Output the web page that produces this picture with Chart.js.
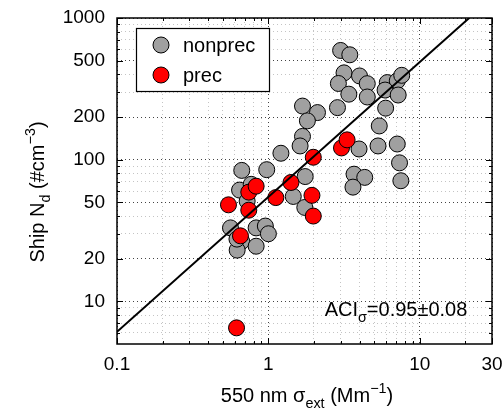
<!DOCTYPE html>
<html>
<head>
<meta charset="utf-8">
<script src="https://cdn.jsdelivr.net/npm/chart.js@4"></script>
<style>
  html, body { margin: 0; padding: 0; background: #fff; }
  #wrap { width: 503px; height: 417px; position: relative; }
</style>
</head>
<body>
<div id="wrap"><canvas id="chart" width="503" height="417"></canvas></div>
<script>
// values
const nonprecX = [3.0, 3.45, 3.16, 4.0, 2.9, 4.5, 3.4, 4.5, 6.1, 7.1, 7.6, 5.9, 7.2, 1.68, 2.11, 1.81, 2.86, 5.95, 5.4, 1.68, 1.62, 1.21, 3.97, 5.3, 7.1, 7.35, 0.667, 0.975, 1.75, 3.68, 4.33, 7.5, 3.62, 0.645, 0.77, 0.724, 1.46, 1.74, 0.562, 0.83, 0.955, 1.0, 0.667, 0.622, 0.83, 0.62]
const nonprecY = [590, 550, 410, 390, 345, 344, 290, 277, 350, 360, 394, 310, 286, 239, 215, 188, 233, 231, 173, 146, 125, 111, 119, 125, 129, 95, 84, 85, 76, 79, 75, 71, 64, 61, 67, 51, 55, 46, 33, 33, 34, 30, 26.5, 23, 24.5, 27.5]

const precX = [1.98, 3.04, 3.31, 1.41, 0.545, 0.742, 0.83, 0.742, 1.12, 1.94, 1.98, 0.654, 0.616]
const precY = [104, 121, 138, 69, 48, 59, 65, 44, 54, 56, 40, 29, 6.5]

// fitted line end points
const fitX = [0.1, 21.2]
const fitY = [6.1, 1000]

const xTickLabels = [0.1, 1, 10, 30]
const yTickLabels = [10, 20, 50, 100, 200, 500, 1000]
const xMinor = [0.2, 0.3, 0.4, 0.5, 0.6, 0.7, 0.8, 0.9, 2, 3, 4, 5, 6, 7, 8, 9, 20]
const yMinor = [6, 7, 8, 9, 30, 40, 60, 70, 80, 90, 300, 400, 600, 700, 800, 900]

const FONT = '"Liberation Sans", Arial, Helvetica, sans-serif'
const GRAY = '#a0a0a0'

const toPoints = (xs, ys) => xs.map((x, i) => ({ x: x, y: ys[i] }))

function tickList(major, minor) {
    return major.concat(minor).sort((a, b) => a - b).map(v => ({ value: v, major: major.includes(v) }))
}

// text with sub/superscript pieces
function drawRich(ctx, parts, x, y, size) {
    const measure = p => {
        ctx.font = (p.s ? size * 0.72 : size) + 'px ' + FONT
        return ctx.measureText(p.t).width
    }
    const total = parts.reduce((w, p) => w + measure(p), 0)
    let cx = x - total / 2
    parts.forEach(p => {
        const w = measure(p)
        let dy = 0
        if (p.s === 'sub') dy = size * 0.32
        if (p.s === 'sup') dy = -size * 0.45
        ctx.fillText(p.t, cx, y + dy)
        cx += w
    })
}

const decorations = {
    id: 'decorations',
    afterDraw(chart) {
        const ctx = chart.ctx
        const a = chart.chartArea
        const xs = chart.scales.x
        const ys = chart.scales.y
        ctx.save()

        // inward tick marks
        ctx.strokeStyle = '#000'
        ctx.lineWidth = 1
        ctx.beginPath()
        xTickLabels.concat(xMinor).forEach(v => {
            const px = Math.round(xs.getPixelForValue(v)) + 0.5
            const len = xTickLabels.includes(v) ? 6 : 3
            ctx.moveTo(px, a.bottom); ctx.lineTo(px, a.bottom - len)
            ctx.moveTo(px, a.top); ctx.lineTo(px, a.top + len)
        })
        yTickLabels.concat(yMinor).forEach(v => {
            const py = Math.round(ys.getPixelForValue(v)) + 0.5
            const len = yTickLabels.includes(v) ? 6 : 3
            ctx.moveTo(a.left, py); ctx.lineTo(a.left + len, py)
            ctx.moveTo(a.right, py); ctx.lineTo(a.right - len, py)
        })
        ctx.stroke()

        // axes box
        ctx.lineWidth = 1.5
        ctx.strokeRect(a.left, a.top, a.right - a.left, a.bottom - a.top)

        // legend
        ctx.fillStyle = '#fff'
        ctx.fillRect(136, 28, 133, 63)
        ctx.lineWidth = 1.2
        ctx.strokeRect(136.5, 28.5, 133, 63)
        const items = [['nonprec', GRAY, 45], ['prec', '#ff0000', 75]]
        items.forEach(([label, color, cy]) => {
            ctx.beginPath()
            ctx.arc(161, cy, 8, 0, Math.PI * 2)
            ctx.fillStyle = color
            ctx.fill()
            ctx.lineWidth = 1
            ctx.strokeStyle = '#000'
            ctx.stroke()
            ctx.fillStyle = '#000'
            ctx.font = '20px ' + FONT
            ctx.textBaseline = 'middle'
            ctx.textAlign = 'left'
            ctx.fillText(label, 183, cy + 1)
        })

        // annotation and axis titles
        ctx.fillStyle = '#000'
        ctx.textBaseline = 'alphabetic'
        ctx.textAlign = 'left'
        drawRich(ctx, [{ t: 'ACI' }, { t: 'σ', s: 'sub' }, { t: '=0.95±0.08' }], 396, 316, 20)
        drawRich(ctx, [{ t: '550 nm σ' }, { t: 'ext', s: 'sub' }, { t: ' (Mm' }, { t: '−1', s: 'sup' }, { t: ')' }], 307, 402, 20)

        ctx.translate(44, 192)
        ctx.rotate(-Math.PI / 2)
        drawRich(ctx, [{ t: 'Ship N' }, { t: 'd', s: 'sub' }, { t: ' (#cm' }, { t: '−3', s: 'sup' }, { t: ')' }], 0, 0, 20)
        ctx.restore()
    }
}

const ctx = document.getElementById('chart').getContext('2d')
new Chart(ctx, {
    type: 'scatter',
    data: {
        datasets: [
            {
                label: 'fit',
                data: toPoints(fitX, fitY),
                showLine: true,
                borderColor: '#000',
                borderWidth: 2,
                pointRadius: 0,
                order: 0
            },
            {
                label: 'prec',
                data: toPoints(precX, precY),
                backgroundColor: '#ff0000',
                borderColor: '#000',
                borderWidth: 1,
                pointRadius: 8,
                order: 1
            },
            {
                label: 'nonprec',
                data: toPoints(nonprecX, nonprecY),
                backgroundColor: GRAY,
                borderColor: '#000',
                borderWidth: 1,
                pointRadius: 8,
                order: 2
            }
        ]
    },
    options: {
        responsive: false,
        animation: false,
        events: [],
        layout: { padding: { left: 0, right: 11, top: 18, bottom: 0 } },
        plugins: {
            legend: { display: false },
            tooltip: { enabled: false }
        },
        scales: {
            x: {
                type: 'logarithmic',
                min: 0.1,
                max: 30,
                afterBuildTicks: s => { s.ticks = tickList(xTickLabels, xMinor) },
                afterFit: s => {
                    s.height = 73
                    s.paddingLeft = 0
                    s.paddingRight = 0
                },
                ticks: {
                    autoSkip: false,
                    maxRotation: 0,
                    padding: 9,
                    color: '#000',
                    font: { family: FONT, size: 19 },
                    callback: v => xTickLabels.includes(v) ? String(v) : ''
                },
                grid: {
                    drawTicks: false,
                    lineWidth: 1,
                    color: c => c.tick && c.tick.major ? '#444' : '#c4c4c4'
                },
                border: { display: false, dash: [1, 3] }
            },
            y: {
                type: 'logarithmic',
                min: 5,
                max: 1000,
                afterBuildTicks: s => { s.ticks = tickList(yTickLabels, yMinor) },
                afterFit: s => {
                    s.width = 117
                    s.paddingTop = 0
                    s.paddingBottom = 0
                },
                ticks: {
                    autoSkip: false,
                    padding: 12,
                    color: '#000',
                    font: { family: FONT, size: 19 },
                    callback: v => yTickLabels.includes(v) ? String(v) : ''
                },
                grid: {
                    drawTicks: false,
                    lineWidth: 1,
                    color: c => c.tick && c.tick.major ? '#444' : '#c4c4c4'
                },
                border: { display: false, dash: [1, 3] }
            }
        }
    },
    plugins: [decorations]
})
</script>
</body>
</html>
